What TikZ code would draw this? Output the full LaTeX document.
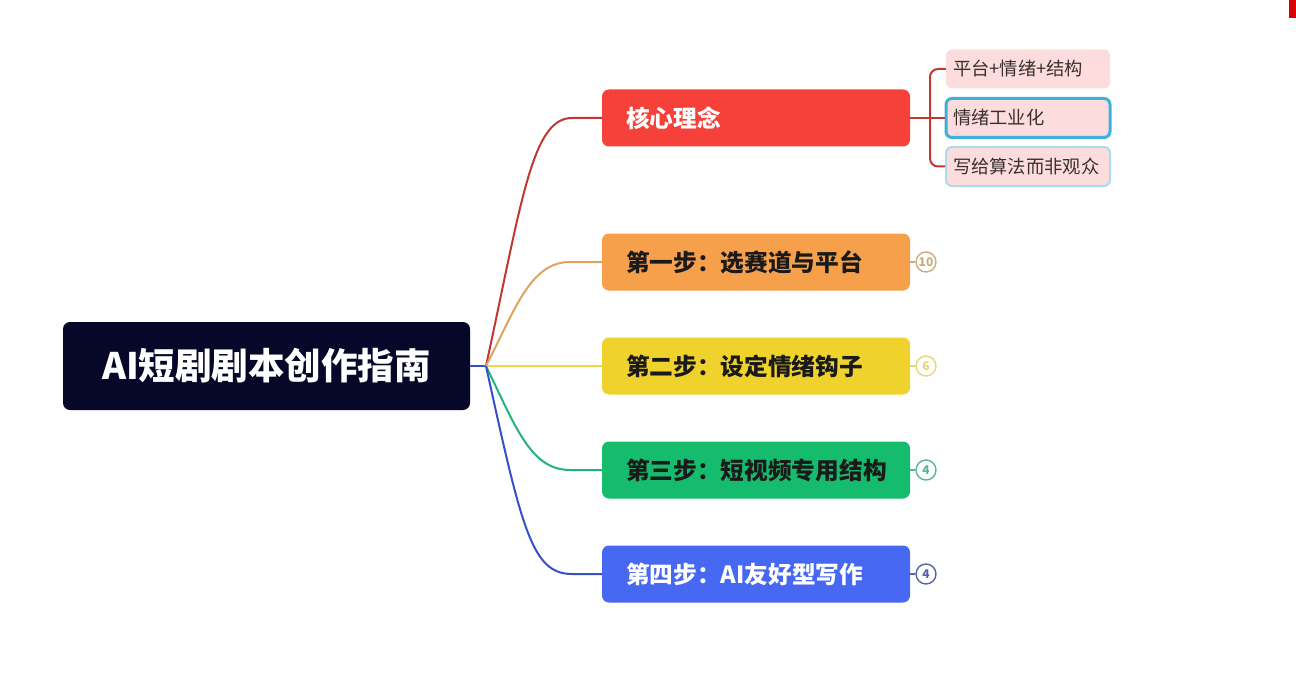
\documentclass[tikz,border=0pt]{standalone}
\usepackage{fontspec}
\newfontfamily\cjk{Noto Sans CJK SC}
\definecolor{rootc}{HTML}{07072A}
\definecolor{redc}{HTML}{F5413A}
\definecolor{orac}{HTML}{F7A04C}
\definecolor{yelc}{HTML}{F0D22C}
\definecolor{grec}{HTML}{15BC6E}
\definecolor{bluc}{HTML}{4668F2}
\definecolor{redl}{HTML}{C0392F}
\definecolor{oral}{HTML}{DDA461}
\definecolor{yell}{HTML}{EED846}
\definecolor{grel}{HTML}{22B47A}
\definecolor{blul}{HTML}{3552C4}
\definecolor{pinkc}{HTML}{FCDCDC}
\definecolor{selc}{HTML}{3AB2DA}
\definecolor{sell}{HTML}{A8DDF0}
\definecolor{tanc}{HTML}{C9AD80}
\definecolor{ylc}{HTML}{E6D676}
\definecolor{glc}{HTML}{54B894}
\definecolor{blc}{HTML}{5862A4}
\definecolor{txtd}{HTML}{1A1A1A}
\definecolor{subt}{HTML}{3A3030}
\tikzset{
  rootbox/.style={rounded corners=7pt, fill=rootc, minimum width=407pt, minimum height=88pt, text=white, font=\cjk\bfseries\fontsize{36.5}{42}\selectfont, inner sep=0pt},
  branch/.style={rounded corners=7pt, minimum width=308pt, minimum height=57pt, text width=260pt, align=left, inner xsep=24pt, inner ysep=0pt, font=\cjk\bfseries\fontsize{23.7}{27}\selectfont},
  subbox/.style={rounded corners=6pt, fill=pinkc, minimum width=164pt, minimum height=39pt, text width=150pt, align=left, inner xsep=7pt, inner ysep=0pt, text=subt, font=\cjk\fontsize{18.3}{22}\selectfont},
  cnt/.style={circle, draw, line width=1.4pt, fill=white, minimum size=20pt, inner sep=0pt, font=\cjk\bfseries\fontsize{12}{13}\selectfont},
  conn/.style={line width=2pt}
}
\begin{document}
\begin{tikzpicture}[x=1pt,y=-1pt]
\useasboundingbox (0,0) rectangle (1296,674);
\fill[white] (0,0) rectangle (1296,674);
\fill[red!85!black] (1289,0) rectangle (1296,18);

\coordinate (fan) at (486,366);
\node[rootbox] (root) at (266.5,366) {AI短剧剧本创作指南};

\node[branch, fill=redc, text=white] (b0) at (756,118) {核心理念};
\node[branch, fill=orac, text=txtd] (b1) at (756,262) {第一步：选赛道与平台};
\node[branch, fill=yelc, text=txtd] (b2) at (756,366) {第二步：设定情绪钩子};
\node[branch, fill=grec, text=txtd] (b3) at (756,470) {第三步：短视频专用结构};
\node[branch, fill=bluc, text=white] (b4) at (756,574) {第四步：AI友好型写作};

\draw[conn, blul] (root.east) -- (fan);
\draw[conn, redl] (fan) .. controls (522,200) and (532,118) .. (572,118) -- (b0.west);
\draw[conn, oral] (fan) .. controls (515,310) and (530,262) .. (570,262) -- (b1.west);
\draw[conn, yell] (fan) -- (b2.west);
\draw[conn, grel] (fan) .. controls (515,425) and (530,470) .. (570,470) -- (b3.west);
\draw[conn, blul] (fan) .. controls (522,530) and (532,574) .. (572,574) -- (b4.west);

% sub nodes
\node[subbox] (s1) at (1028,69) {平台+情绪+结构};
\node[subbox, draw=selc, line width=3pt] (s2) at (1028,118) {情绪工业化};
\node[subbox, draw=sell, line width=2pt] (s3) at (1028,166.5) {写给算法而非观众};
\coordinate (br) at (930,118);
\draw[conn, redl] (b0.east) -- (br);
\draw[conn, redl, rounded corners=8pt] (s1.west) -- (930,69) -- (930,166.5) -- (s3.west);
\draw[conn, redl] (br) -- (s2.west);

% counters
\node[cnt, draw=tanc, text=tanc] (c1) at (926,262) {10};
\node[cnt, draw=ylc, text=ylc] (c2) at (926,366) {6};
\node[cnt, draw=glc, text=glc] (c3) at (926,470) {4};
\node[cnt, draw=blc, text=blc] (c4) at (926,574) {4};
\draw[line width=1.4pt, tanc] (b1.east) -- (c1.west);
\draw[line width=1.4pt, ylc] (b2.east) -- (c2.west);
\draw[line width=1.4pt, glc] (b3.east) -- (c3.west);
\draw[line width=1.4pt, blc] (b4.east) -- (c4.west);
\end{tikzpicture}
\end{document}
